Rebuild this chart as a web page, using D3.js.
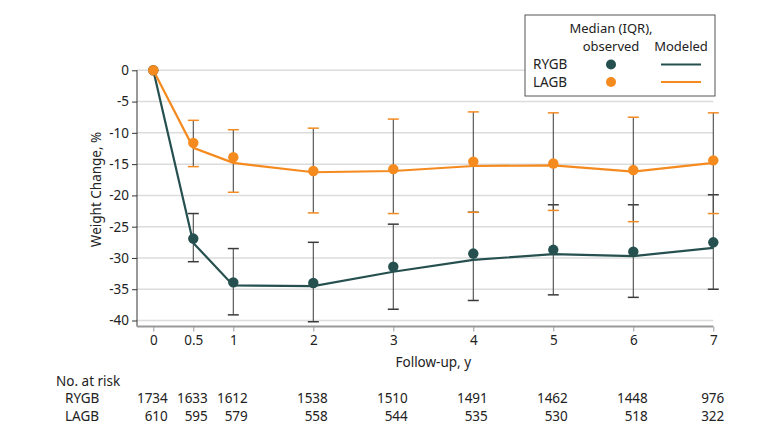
<!DOCTYPE html>
<html>
<head>
<meta charset="utf-8">
<script src="https://cdn.jsdelivr.net/npm/d3@7"></script>
<style>
  html, body { margin: 0; padding: 0; background: #fff; }
  svg { display: block; }
  text { font-family: "Noto Sans", "Open Sans", sans-serif; fill: #222; }
</style>
</head>
<body>
<svg id="chart" width="783" height="434"></svg>
<script>
const years = [0, 0.5, 1, 2, 3, 4, 5, 6, 7];
const tickLabels = ["0", "0.5", "1", "2", "3", "4", "5", "6", "7"];
const yTicks = [0, -5, -10, -15, -20, -25, -30, -35, -40];

const rygbMedian = [0, -26.9, -33.9, -34.0, -31.4, -29.3, -28.7, -29.0, -27.5];
const rygbQ1 = [null, -22.9, -28.5, -27.5, -24.6, -22.7, -21.5, -21.5, -19.9];
const rygbQ3 = [null, -30.6, -39.1, -40.2, -38.2, -36.8, -35.9, -36.3, -35.0];
const rygbModel = [0, -27.6, -34.4, -34.5, -32.2, -30.3, -29.4, -29.7, -28.4];

const lagbMedian = [0, -11.6, -13.9, -16.1, -15.8, -14.6, -14.9, -15.95, -14.4];
const lagbQ1 = [null, -8.0, -9.5, -9.25, -7.8, -6.65, -6.8, -7.5, -6.8];
const lagbQ3 = [null, -15.4, -19.5, -22.8, -22.9, -22.7, -22.4, -24.2, -22.9];
const lagbModel = [0, -12.4, -14.8, -16.3, -16.1, -15.3, -15.2, -16.2, -14.8];

const rygbRisk = [1734, 1633, 1612, 1538, 1510, 1491, 1462, 1448, 976];
const lagbRisk = [610, 595, 579, 558, 544, 535, 530, 518, 322];

const groups = [
  { name: "RYGB", median: rygbMedian, q1: rygbQ1, q3: rygbQ3, model: rygbModel, color: "#26504f", cap: "#3a3a3a" },
  { name: "LAGB", median: lagbMedian, q1: lagbQ1, q3: lagbQ3, model: lagbModel, color: "#f58a1f", cap: "#f58a1f" }
];

const FS = 13.5;
const svg = d3.select("#chart");
const x = d3.scaleLinear().domain([0, 7]).range([153.3, 713.3]);
const y = d3.scaleLinear().domain([0, -40]).range([70.3, 320.5]);
const axisLeftX = 137;
const axisBottomY = 326.5;

// gridlines
svg.append("g").selectAll("line").data(yTicks).join("line")
  .attr("x1", axisLeftX).attr("x2", x(7))
  .attr("y1", d => y(d)).attr("y2", d => y(d))
  .attr("stroke", "#dcdcdc").attr("stroke-width", 1.5);

// y axis
const yAxis = d3.axisLeft(y).tickValues(yTicks).tickSize(5).tickPadding(3).tickFormat(d => d3.format("d")(d).replace("−", "-"));
const gy = svg.append("g").attr("transform", `translate(${axisLeftX},0)`).call(yAxis);
gy.select(".domain").attr("d", `M0,${y(0)}V${axisBottomY}`).attr("stroke", "#333");
gy.selectAll(".tick line").attr("stroke", "#333");
gy.selectAll(".tick text").attr("font-size", FS).attr("font-family", "Noto Sans").attr("fill", "#222");

// x axis
const xAxis = d3.axisBottom(x).tickValues(years).tickSize(5).tickPadding(4).tickFormat((d, i) => tickLabels[i]);
const gx = svg.append("g").attr("transform", `translate(0,${axisBottomY})`).call(xAxis);
gx.select(".domain").attr("d", `M${axisLeftX},0H${x(7)}`).attr("stroke", "#999").attr("stroke-width", 2);
gx.selectAll(".tick line").attr("stroke", "#999");
gx.selectAll(".tick text").attr("font-size", FS).attr("font-family", "Noto Sans").attr("fill", "#222");

// axis titles
svg.append("text").attr("x", x(3.5)).attr("y", 367).attr("text-anchor", "middle")
  .attr("font-size", FS).text("Follow-up, y");
svg.append("text").attr("transform", `translate(101,${y(-20) - 6}) rotate(-90)`)
  .attr("text-anchor", "middle").attr("font-size", FS).text("Weight Change, %");

// error bars
const capW = 5.5;
groups.forEach(g => {
  const eb = svg.append("g");
  years.forEach((t, i) => {
    if (g.q1[i] == null) return;
    eb.append("line").attr("x1", x(t)).attr("x2", x(t)).attr("y1", y(g.q1[i])).attr("y2", y(g.q3[i]))
      .attr("stroke", "#4a4a4a").attr("stroke-width", 1.1);
    [g.q1[i], g.q3[i]].forEach(v => {
      eb.append("line").attr("x1", x(t) - capW).attr("x2", x(t) + capW).attr("y1", y(v)).attr("y2", y(v))
        .attr("stroke", g.cap).attr("stroke-width", 1.5);
    });
  });
});

// modeled lines and markers
const line = d3.line().x((d, i) => x(years[i])).y(d => y(d));
groups.forEach(g => {
  svg.append("path").attr("d", line(g.model)).attr("fill", "none")
    .attr("stroke", g.color).attr("stroke-width", 2.2);
});
groups.forEach(g => {
  svg.append("g").selectAll("circle").data(g.median).join("circle")
    .attr("cx", (d, i) => x(years[i])).attr("cy", d => y(d)).attr("r", 5.2)
    .attr("fill", g.color);
});

// legend
const lg = svg.append("g");
lg.append("rect").attr("x", 525).attr("y", 15).attr("width", 190).attr("height", 81)
  .attr("fill", "#fff").attr("stroke", "#555").attr("stroke-width", 1);
lg.append("text").attr("x", 611).attr("y", 33).attr("text-anchor", "middle").attr("font-size", 13).text("Median (IQR),");
lg.append("text").attr("x", 611).attr("y", 51).attr("text-anchor", "middle").attr("font-size", 13).text("observed");
lg.append("text").attr("x", 681).attr("y", 51).attr("text-anchor", "middle").attr("font-size", 13).text("Modeled");
groups.forEach((g, k) => {
  const yy = 64.5 + k * 17.5;
  lg.append("text").attr("x", 533).attr("y", yy + 4.8).attr("font-size", FS).text(g.name);
  lg.append("circle").attr("cx", 611).attr("cy", yy).attr("r", 5).attr("fill", g.color);
  lg.append("line").attr("x1", 661).attr("x2", 701).attr("y1", yy).attr("y2", yy)
    .attr("stroke", g.color).attr("stroke-width", 2);
});

// number at risk
svg.append("text").attr("x", 56).attr("y", 386).attr("font-size", FS).text("No. at risk");
[["RYGB", rygbRisk, 403], ["LAGB", lagbRisk, 421]].forEach(([name, vals, yy]) => {
  svg.append("text").attr("x", 65).attr("y", yy).attr("font-size", FS).text(name);
  svg.append("g").selectAll("text").data(vals).join("text")
    .attr("x", (d, i) => x(years[i]) + (i === vals.length - 1 ? 11 : 14.5))
    .attr("y", yy).attr("text-anchor", "end").attr("font-size", FS).text(d => d);
});
</script>
</body>
</html>
